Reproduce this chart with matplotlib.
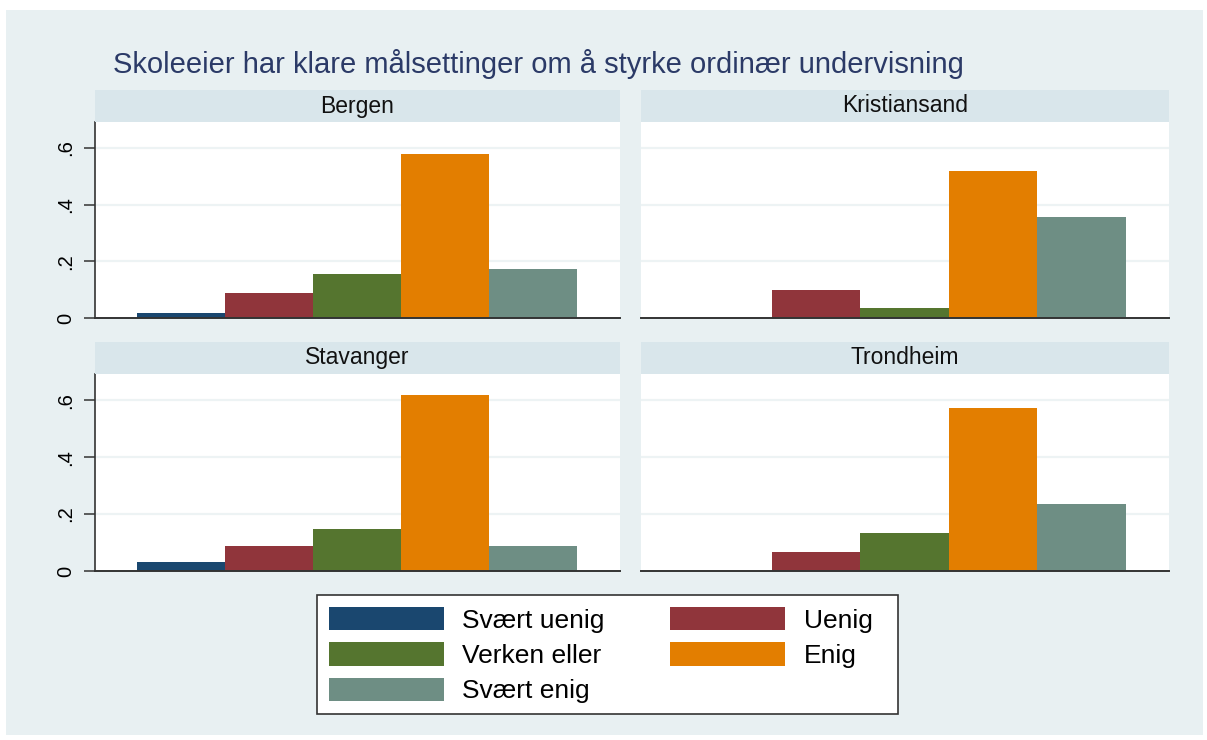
import matplotlib
matplotlib.use('Agg')
import matplotlib.pyplot as plt
from matplotlib.patches import Rectangle, Patch

plt.rcParams['font.family'] = ['Liberation Sans', 'DejaVu Sans']

# Data (share of answers per city)
cities = ['Bergen', 'Kristiansand', 'Stavanger', 'Trondheim']
categories = ['Svært uenig', 'Uenig', 'Verken eller', 'Enig', 'Svært enig']
bergen = [0.019, 0.087, 0.154, 0.578, 0.172]
kristiansand = [0.0, 0.099, 0.034, 0.520, 0.358]
stavanger = [0.032, 0.088, 0.147, 0.617, 0.088]
trondheim = [0.0, 0.068, 0.134, 0.572, 0.234]
yticks = [0, 0.2, 0.4, 0.6]
yticklabels = ['0', '.2', '.4', '.6']
title = 'Skoleeier har klare målsettinger om å styrke ordinær undervisning'

# Stata s2color palette
colors = ['#1a476f', '#90353b', '#55752f', '#e37e00', '#6e8e84']
bg = '#e8f0f2'
strip_bg = '#d9e6eb'
grid_col = '#edf3f4'

W, H = 1207, 740
fig = plt.figure(figsize=(W / 100, H / 100), dpi=100, facecolor='white')

def fx(px):
    return px / W

def fy(px):
    return 1 - px / H

# graph region background
fig.patches.append(Rectangle((fx(6), fy(735)), fx(1197), 725 / H,
                             transform=fig.transFigure, facecolor=bg,
                             edgecolor='none', zorder=-10))

fig.text(fx(113), fy(64), title, fontsize=21, color='#2b3a67',
         va='center', ha='left')

# panel boxes in pixels: (left, right, top of plot, bottom of plot)
panels = [
    (95, 620, 122, 318),
    (641, 1169, 122, 318),
    (95, 620, 374, 571),
    (641, 1169, 374, 571),
]
values = [bergen, kristiansand, stavanger, trondheim]

for i, (city, vals, box) in enumerate(zip(cities, values, panels)):
    l, r, t, b = box
    ax = fig.add_axes([fx(l), fy(b), fx(r - l), (b - t) / H])
    ax.set_facecolor('white')
    for y in yticks[1:]:
        ax.axhline(y, color=grid_col, lw=1.6, zorder=0)
    ax.bar(range(len(categories)), vals, width=1.0, color=colors,
           edgecolor='none', zorder=2)
    ax.set_xlim(-0.98, 4.99)
    ax.set_ylim(0, 0.692)
    ax.set_xticks([])
    for s in ['top', 'right']:
        ax.spines[s].set_visible(False)
    ax.spines['bottom'].set_color('#333333')
    ax.spines['bottom'].set_linewidth(1.4)
    ax.spines['bottom'].set_zorder(3)
    if i % 2 == 0:
        ax.spines['left'].set_color('#333333')
        ax.spines['left'].set_linewidth(1.2)
        ax.set_yticks(yticks)
        ax.set_yticklabels(yticklabels, rotation=90, va='center',
                           fontsize=14.5)
        ax.tick_params(axis='y', length=8, width=1.1, color='#333333',
                       pad=6)
    else:
        ax.spines['left'].set_visible(False)
        ax.set_yticks([])

    # strip with city name
    sax = fig.add_axes([fx(l), fy(t), fx(r - l), 32 / H])
    sax.set_facecolor(strip_bg)
    sax.set_xticks([])
    sax.set_yticks([])
    for s in sax.spines.values():
        s.set_visible(False)
    sax.text(0.5, 0.5, city, ha='center', va='center', fontsize=16.5,
             color='#111111', transform=sax.transAxes)

# legend box drawn separately so it can be as wide as in Stata
fig.patches.append(Rectangle((fx(317), fy(714)), fx(581), 119 / H,
                             transform=fig.transFigure, facecolor='white',
                             edgecolor='#333333', linewidth=1.2, zorder=1))

# legend, reordered so matplotlib's column filling gives row-wise order
order = [0, 2, 4, 1, 3]
handles = [Patch(facecolor=colors[k], edgecolor='none') for k in order]
labels = [categories[k] for k in order]
leg = fig.legend(handles, labels, ncol=2, loc='upper left',
                 bbox_to_anchor=(fx(317), fy(595)), fontsize=19,
                 frameon=False, handlelength=4.35, handleheight=1.0,
                 handletextpad=0.7, labelspacing=0.36, columnspacing=2.5,
                 borderpad=0.45, borderaxespad=0)
leg.set_zorder(2)

fig.savefig('out.png', dpi=100, facecolor='white')
